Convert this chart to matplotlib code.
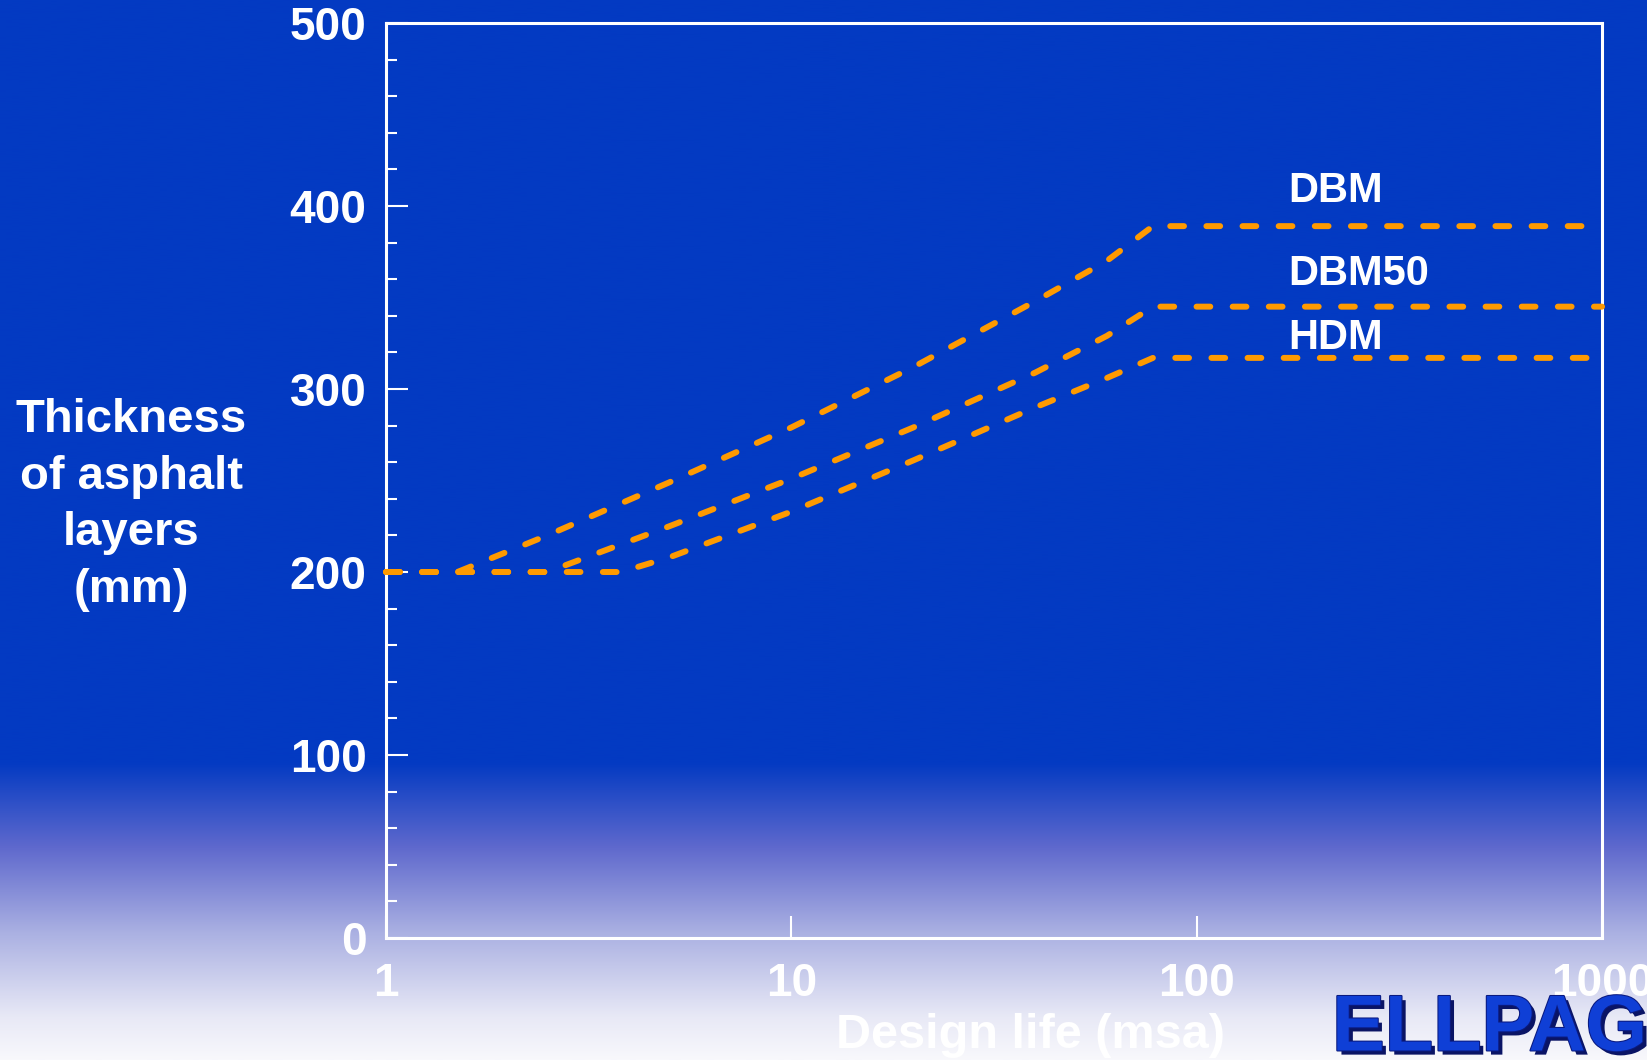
import numpy as np
import matplotlib
matplotlib.use("Agg")
import matplotlib.pyplot as plt
from matplotlib import patheffects as pe

plt.rcParams['font.family'] = ['Liberation Sans', 'DejaVu Sans']
plt.rcParams['font.weight'] = 'bold'

# design life (msa) vs thickness of asphalt layers (mm)
dbm_x = [1, 1.5, 2.5, 5, 10, 20, 40, 60, 78, 1000]
dbm_y = [200, 200, 220, 249, 279, 312, 348, 370, 389, 389]

dbm50_x = [1, 2.5, 5, 10, 20, 40, 60, 78, 1000]
dbm50_y = [200, 200, 225, 251, 279, 309, 329, 345, 345]

hdm_x = [1, 3.8, 5, 10, 20, 40, 60, 78, 1000]
hdm_y = [200, 200, 208, 233, 261, 290, 306, 317, 317]

series_names = ["DBM", "DBM50", "HDM"]
label_x = 168
label_y = [408, 363, 328]

x_ticks = [1, 10, 100, 1000]
x_tick_labels = ["1", "10", "100", "1000"]
y_ticks = [0, 100, 200, 300, 400, 500]

BLUE = (3 / 255, 58 / 255, 194 / 255)
ORANGE = '#FF9A00'

fig = plt.figure(figsize=(16.47, 10.6), dpi=100)

# background: solid blue fading to white near the bottom
bg = fig.add_axes([0, 0, 1, 1], zorder=-10)
t = np.linspace(0, 1, 600)
stops = [0.0, 0.72, 0.80, 0.88, 0.96, 1.0]
cols = [BLUE, (95, 105, 205), (170, 176, 226), (232, 233, 246), (248, 248, 252)]
cols = np.array([cols[0]] + [tuple(v / 255 for v in c) for c in cols[1:]])
cols = np.vstack([cols[:1], cols])
grad = np.stack([np.interp(t, stops, cols[:, k]) for k in range(3)], axis=-1)
bg.imshow(grad[:, None, :], aspect='auto', extent=[0, 1, 0, 1])
bg.set_axis_off()

ax = fig.add_axes([0.2344, 0.1151, 0.7383, 0.8632])
ax.set_facecolor('none')
ax.set_xscale('log')
ax.set_xlim(1, 1000)
ax.set_ylim(0, 500)

style = dict(color=ORANGE, lw=4.3, dashes=(2.3, 3.75), dash_capstyle='round', zorder=3, clip_on=False)
ax.plot(dbm_x, dbm_y, **style)
ax.plot(dbm50_x, dbm50_y, **style)
ax.plot(hdm_x, hdm_y, **style)

for name, ly in zip(series_names, label_y):
    ax.text(label_x, ly, name, color='white', fontsize=30, fontweight='bold', ha='left', va='center', zorder=2)

for s in ax.spines.values():
    s.set_color('white')
    s.set_linewidth(2.2)

ax.set_xticks(x_ticks)
ax.set_xticklabels(x_tick_labels)
ax.xaxis.set_minor_locator(matplotlib.ticker.NullLocator())
ax.set_yticks(y_ticks)
ax.set_yticks(np.arange(0, 501, 20), minor=True)
ax.tick_params(axis='both', which='major', direction='in', length=16, width=1.5, color='white',
               labelcolor='white', labelsize=33)
ax.tick_params(axis='y', which='minor', direction='in', length=8, width=1.5, color='white')
ax.tick_params(axis='y', which='major', pad=14)
ax.tick_params(axis='x', which='major', pad=17)
for lbl in ax.get_xticklabels() + ax.get_yticklabels():
    lbl.set_fontweight('bold')

fig.text(131 / 1647, 1 - 505 / 1060, "Thickness\nof asphalt\nlayers\n(mm)", color='white', fontsize=34,
         fontweight='bold', ha='center', va='center', multialignment='center', linespacing=1.38)
fig.text(1030 / 1647, 1 - 1036 / 1060, "Design life (msa)", color='white', fontsize=35,
         fontweight='bold', ha='center', va='center')

fig.text(1332 / 1647, 0.009, "ELLPAG", color='#0F3FD6', fontsize=57, fontweight='bold', ha='left', va='baseline',
         path_effects=[pe.SimplePatchShadow(offset=(3, -3), shadow_rgbFace='#0A1465', alpha=1.0),
                       pe.withStroke(linewidth=1.5, foreground='#0A1A80')])

fig.savefig("out.png", dpi=100)
